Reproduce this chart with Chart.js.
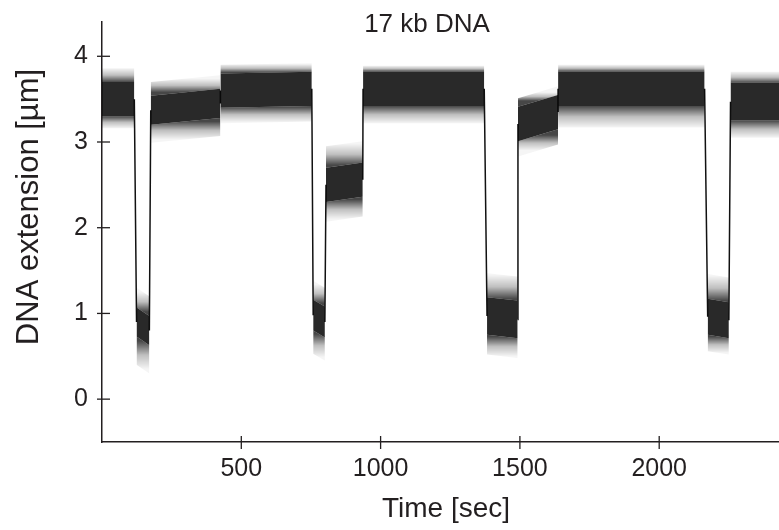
<!DOCTYPE html>
<html><head><meta charset="utf-8">
<script src="https://cdn.jsdelivr.net/npm/chart.js@4.4.1/dist/chart.umd.min.js"></script>
<style>html,body{margin:0;padding:0;background:#fff}#wrap{width:779px;height:530px}</style>
</head><body><div id="wrap"><canvas id="c" width="779" height="530"></canvas></div>
<script>
// ---- text ----
const chartTitle = '17 kb DNA';
const xAxisTitle = 'Time [sec]';
const yAxisTitle = 'DNA extension [µm]';
// ---- tick labels ----
const xTicks = [500, 1000, 1500, 2000];
const yTicks = [0, 1, 2, 3, 4];
// ---- trace, read as plateaus / dips (time in sec, extension in µm) ----
const segStart   = [0,    124,  175,  425,  758,  804,  937,  1382, 1493, 1637, 2174, 2256];
const segEnd     = [116,  170,  425,  753,  800,  936,  1372, 1492, 1637, 2163, 2250, 2430];
const midStart   = [3.50, 0.90, 3.37, 3.60, 0.98, 2.50, 3.62, 0.97, 3.21, 3.62, 0.96, 3.47];
const midEnd     = [3.50, 0.80, 3.45, 3.62, 0.90, 2.56, 3.62, 0.93, 3.35, 3.62, 0.92, 3.47];
const coreHalf   = [0.20, 0.17, 0.17, 0.20, 0.18, 0.20, 0.20, 0.22, 0.20, 0.20, 0.21, 0.22];
const spreadUp   = [0.36, 0.40, 0.33, 0.30, 0.40, 0.45, 0.27, 0.50, 0.30, 0.28, 0.50, 0.35];
const spreadDown = [0.34, 0.50, 0.38, 0.38, 0.45, 0.43, 0.40, 0.45, 0.38, 0.45, 0.40, 0.42];

const FONT = '"Liberation Sans", Arial, Helvetica, sans-serif';
const textColor = '#231f20';
const axisColor = '#231f20';
const black = a => 'rgba(0,0,0,' + a + ')';

function bandGradient(context, vOuter, vInner) {
  const chart = context.chart;
  const ys = chart.scales && chart.scales.y;
  if (!chart.chartArea || !ys) return black(0.35);
  const g = chart.ctx.createLinearGradient(0, ys.getPixelForValue(vOuter), 0, ys.getPixelForValue(vInner));
  g.addColorStop(0, black(0.04));
  g.addColorStop(0.5, black(0.25));
  g.addColorStop(1, black(0.72));
  return g;
}

const datasets = [];
const base = {type: 'line', pointRadius: 0, borderWidth: 0, tension: 0, borderColor: 'rgba(0,0,0,0)'};
segStart.forEach((s, i) => {
  const e = segEnd[i];
  const pts = off => [{x: s, y: midStart[i] + off}, {x: e, y: midEnd[i] + off}];
  const mid = (midStart[i] + midEnd[i]) / 2;
  datasets.push(Object.assign({}, base, {label: 'upper edge ' + i, data: pts(spreadUp[i]), fill: false}));
  datasets.push(Object.assign({}, base, {label: 'upper spread ' + i, data: pts(coreHalf[i]), fill: '-1',
    backgroundColor: ctx => bandGradient(ctx, mid + spreadUp[i], mid + coreHalf[i])}));
  datasets.push(Object.assign({}, base, {label: 'core ' + i, data: pts(-coreHalf[i]), fill: '-1',
    backgroundColor: black(0.84)}));
  datasets.push(Object.assign({}, base, {label: 'lower spread ' + i, data: pts(-spreadDown[i]), fill: '-1',
    backgroundColor: ctx => bandGradient(ctx, mid - spreadDown[i], mid - coreHalf[i])}));
});
// transitions between consecutive levels (thin connecting lines)
const transitions = [];
for (let i = 0; i < segStart.length - 1; i++) {
  transitions.push({x: segEnd[i], y: midEnd[i]});
  transitions.push({x: segStart[i + 1], y: midStart[i + 1]});
  transitions.push({x: segStart[i + 1], y: null});
}
datasets.push({type: 'line', label: 'transitions', data: transitions, pointRadius: 0, borderWidth: 1.5,
  borderColor: '#111', tension: 0, fill: false, spanGaps: false});

const decor = {
  id: 'decor',
  afterDraw(chart) {
    const ctx = chart.ctx, xs = chart.scales.x, ys = chart.scales.y, a = chart.chartArea;
    ctx.save();
    ctx.strokeStyle = axisColor; ctx.lineWidth = 1.3;
    xs.ticks.forEach(t => {
      const px = xs.getPixelForValue(t.value);
      ctx.beginPath(); ctx.moveTo(px, a.bottom - 6); ctx.lineTo(px, a.bottom + 7); ctx.stroke();
    });
    ys.ticks.forEach(t => {
      const py = ys.getPixelForValue(t.value);
      ctx.beginPath(); ctx.moveTo(a.left - 5, py); ctx.lineTo(a.left + 8, py); ctx.stroke();
    });
    ctx.fillStyle = textColor;
    ctx.textAlign = 'center'; ctx.textBaseline = 'alphabetic';
    ctx.font = '26px ' + FONT;
    ctx.fillText(chartTitle, 427, 32);
    ctx.font = '28px ' + FONT;
    ctx.fillText(xAxisTitle, 446, 517);
    ctx.translate(38, 207); ctx.rotate(-Math.PI / 2);
    ctx.font = '31px ' + FONT;
    ctx.fillText(yAxisTitle, 0, 0);
    ctx.restore();
  }
};

new Chart(document.getElementById('c'), {
  type: 'line',
  data: {datasets},
  plugins: [decor],
  options: {
    responsive: false, animation: false, devicePixelRatio: 1,
    layout: {padding: {top: 22, right: 0, bottom: 0, left: 0}},
    plugins: {legend: {display: false}, tooltip: {enabled: false}, title: {display: false}},
    scales: {
      x: {
        type: 'linear', min: 0, max: 2430,
        afterBuildTicks: s => { s.ticks = xTicks.map(v => ({value: v})); },
        afterFit: s => { s.height = 88; s.paddingLeft = 0; s.paddingRight = 0; },
        grid: {display: false, drawTicks: false},
        border: {display: true, color: axisColor, width: 1.5},
        ticks: {font: {family: FONT, size: 25}, color: textColor, padding: 12, maxRotation: 0, autoSkip: false,
          callback: v => String(v)}
      },
      y: {
        type: 'linear', min: -0.5, max: 4.4,
        afterBuildTicks: s => { s.ticks = yTicks.map(v => ({value: v})); },
        afterFit: s => { s.width = 102; s.paddingTop = 0; s.paddingBottom = 0; },
        grid: {display: false, drawTicks: false},
        border: {display: true, color: axisColor, width: 1.5},
        ticks: {font: {family: FONT, size: 25}, color: textColor, padding: 14, autoSkip: false,
          callback: v => String(v)}
      }
    }
  }
});
</script>
</body></html>
